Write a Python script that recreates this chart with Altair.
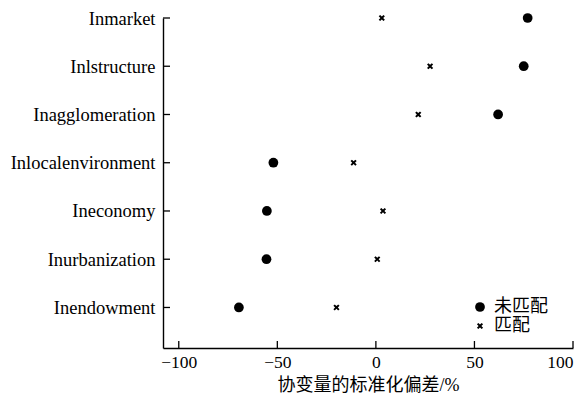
import altair as alt
import pandas as pd

categories = ["Inmarket", "Inlstructure", "Inagglomeration", "Inlocalenvironment",
              "Ineconomy", "Inurbanization", "Inendowment"]
unmatched = [77, 75, 62, -52, -55.3, -55.5, -69.5]
matched = [3, 27.5, 21.5, -11.3, 3.6, 0.7, -20]
series_names = ["未匹配", "匹配"]
x_ticks = [-100, -50, 0, 50, 100]
x_title = "协变量的标准化偏差/%"

n = len(categories)
positions = [n - i for i in range(n)]
rows = []
for c, p, u, m in zip(categories, positions, unmatched, matched):
    rows.append({"cat": c, "pos": p, "val": u, "type": series_names[0]})
    rows.append({"cat": c, "pos": p, "val": m, "type": series_names[1]})
df = pd.DataFrame(rows)

labels_by_pos = [categories[n - k] for k in range(1, n + 1)]
label_expr = "[" + ",".join(f"'{l}'" for l in labels_by_pos) + "][datum.value - 1]"

FONT = "Liberation Serif, Noto Sans CJK SC"
# filled "x" glyph
XPATH = ("M-0.55,-1L0,-0.45L0.55,-1L1,-0.55L0.45,0L1,0.55L0.55,1L0,0.45"
         "L-0.55,1L-1,0.55L-0.45,0L-1,-0.55Z")

xscale = alt.Scale(domain=[-108, 100], nice=False, zero=False)
yscale = alt.Scale(domain=[0.16, 7], nice=False, zero=False)
xaxis = alt.Axis(values=x_ticks, title=x_title, tickSize=0, labelPadding=5,
                 labelFontSize=17.5, titleFontSize=18, titlePadding=6, grid=False)
yaxis = alt.Axis(values=positions, labelExpr=label_expr, title=None,
                 labelFontSize=18.5, tickSize=0, labelPadding=8, grid=False)

legend = alt.Legend(title=None, orient="none", legendX=308, legendY=280,
                    labelFont=FONT, labelFontSize=18, labelColor="black",
                    padding=0, rowPadding=1, labelOffset=5)

points = alt.Chart(df).mark_point(filled=True, opacity=1).encode(
    x=alt.X("val:Q", scale=xscale, axis=xaxis),
    y=alt.Y("pos:Q", scale=yscale, axis=yaxis),
    shape=alt.Shape("type:N", scale=alt.Scale(domain=series_names, range=["circle", XPATH]),
                    legend=legend),
    size=alt.Size("type:N", scale=alt.Scale(domain=series_names, range=[95, 38]),
                  legend=legend),
    color=alt.value("black"),
)

xt = alt.Chart(pd.DataFrame({"val": x_ticks})).mark_rule(color="black", strokeWidth=1.3).encode(
    x=alt.X("val:Q", scale=xscale, axis=xaxis),
    y=alt.value(330), y2=alt.value(323),
)
yt = alt.Chart(pd.DataFrame({"pos": positions})).mark_rule(color="black", strokeWidth=1.3).encode(
    y=alt.Y("pos:Q", scale=yscale, axis=yaxis),
    x=alt.value(0), x2=alt.value(7),
)

chart = alt.layer(points, xt, yt).properties(
    width=410, height=330,
    autosize=alt.AutoSizeParams(type="none"),
    padding={"left": 155, "top": 10, "right": 6, "bottom": 46},
).configure_view(stroke=None).configure_axis(
    domainColor="black", domainWidth=1.4, labelColor="black", titleColor="black",
    labelFont=FONT, titleFont=FONT, titleFontWeight="normal",
)

chart.save("out.html", embed_options={"renderer": "svg", "actions": False})
